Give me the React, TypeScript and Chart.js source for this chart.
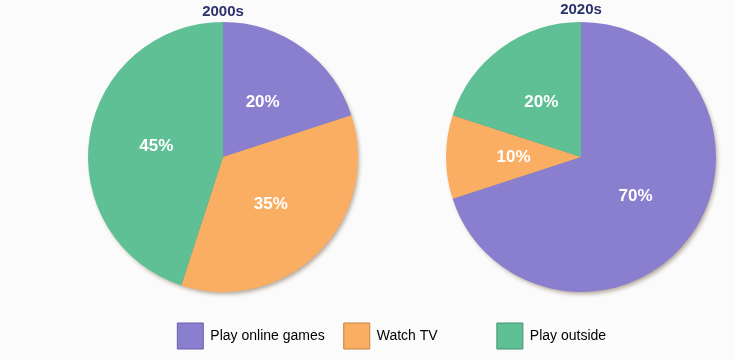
import React, { useEffect, useRef } from "react";
import { Chart, registerables } from "chart.js";

Chart.register(...registerables);

const categories = ["Play online games", "Watch TV", "Play outside"];
const periods = ["2000s", "2020s"];
const values2000s = [20, 35, 45];
const values2020s = [70, 10, 20];
const colors = ["#8a7fce", "#f9ae63", "#5fbf95"];
const edgeColors = ["#6a5fa8", "#c9803c", "#3f9470"];

const FONT = "'Liberation Sans', Arial, Helvetica, sans-serif";

const shadowPlugin = {
  id: "pieShadow",
  beforeDatasetsDraw(chart: any) {
    const arc: any = chart.getDatasetMeta(0).data[0];
    if (!arc) return;
    const ctx = chart.ctx;
    ctx.save();
    ctx.shadowColor = "rgba(90,60,30,0.45)";
    ctx.shadowBlur = 4;
    ctx.shadowOffsetX = 2;
    ctx.shadowOffsetY = 3;
    ctx.fillStyle = "#9a8a7a";
    ctx.beginPath();
    ctx.arc(arc.x, arc.y, arc.outerRadius - 1, 0, Math.PI * 2);
    ctx.fill();
    ctx.restore();
  },
};

const pctLabels = {
  id: "pctLabels",
  afterDatasetsDraw(chart: any) {
    const ctx = chart.ctx;
    const meta = chart.getDatasetMeta(0);
    const data = chart.data.datasets[0].data as number[];
    ctx.save();
    ctx.font = `bold 17px ${FONT}`;
    ctx.fillStyle = "#ffffff";
    ctx.textAlign = "center";
    ctx.textBaseline = "middle";
    meta.data.forEach((arc: any, i: number) => {
      const p = arc.tooltipPosition(false);
      ctx.fillText(`${data[i]}%`, p.x, p.y);
    });
    ctx.restore();
  },
};

function makePie(
  canvas: HTMLCanvasElement,
  title: string,
  values: number[],
  padLeft: number,
  padRight: number,
  titleTop: number
) {
  return new Chart(canvas, {
    type: "pie",
    data: {
      labels: categories,
      datasets: [
        {
          data: values,
          backgroundColor: colors,
          borderWidth: 0,
        },
      ],
    },
    options: {
      animation: false,
      responsive: false,
      maintainAspectRatio: false,
      layout: { padding: { left: padLeft, right: padRight, top: 0, bottom: 18 } },
      plugins: {
        legend: { display: false },
        tooltip: { enabled: false },
        title: {
          display: true,
          text: title,
          color: "#2b316b",
          font: { size: 15, weight: "bold", family: FONT },
          padding: { top: titleTop, bottom: 4 - titleTop },
        },
      },
    },
    plugins: [shadowPlugin, pctLabels],
  } as any);
}

function makeLegend(canvas: HTMLCanvasElement, shown: number[], padLeft: number, padRight: number) {
  return new Chart(canvas, {
    type: "pie",
    data: {
      labels: categories,
      datasets: [{ data: categories.map(() => 0), backgroundColor: colors, borderWidth: 0 }],
    },
    options: {
      animation: false,
      responsive: false,
      maintainAspectRatio: false,
      layout: { padding: { top: 304, left: padLeft, right: padRight, bottom: 0 } },
      plugins: {
        tooltip: { enabled: false },
        title: { display: false },
        legend: {
          display: true,
          position: "top",
          labels: {
            boxWidth: 26,
            boxHeight: 26,
            padding: 19,
            color: "#222222",
            font: { size: 14, family: FONT },
            filter: (item: any) => shown.includes(item.index),
            generateLabels: () =>
              categories.map((text, i) => ({
                text,
                fillStyle: colors[i],
                strokeStyle: edgeColors[i],
                lineWidth: 1,
                hidden: false,
                index: i,
              })),
          },
        },
      },
    },
  } as any);
}

export default function App() {
  const leftRef = useRef<HTMLCanvasElement>(null);
  const rightRef = useRef<HTMLCanvasElement>(null);
  const legendARef = useRef<HTMLCanvasElement>(null);
  const legendBRef = useRef<HTMLCanvasElement>(null);

  useEffect(() => {
    const c1 = makePie(leftRef.current!, periods[0], values2000s, 88, 9, 3);
    const c2 = makePie(rightRef.current!, periods[1], values2020s, 79, 18, 1);
    const c3 = makeLegend(legendARef.current!, [0, 1], 0, 119);
    const c4 = makeLegend(legendBRef.current!, [2], 369, 0);
    return () => {
      c1.destroy();
      c2.destroy();
      c3.destroy();
      c4.destroy();
    };
  }, []);

  const overlay = { position: "absolute" as const, left: 0, top: 0, width: 734, height: 480, pointerEvents: "none" as const };

  return (
    <div
      style={{
        position: "fixed",
        left: 0,
        top: 0,
        width: 734,
        height: 360,
        background: "#fbfbfb",
        overflow: "hidden",
      }}
    >
      <canvas
        ref={leftRef}
        width={367}
        height={310}
        style={{ position: "absolute", left: 0, top: 0, width: 367, height: 310 }}
      />
      <canvas
        ref={rightRef}
        width={367}
        height={310}
        style={{ position: "absolute", left: 367, top: 0, width: 367, height: 310 }}
      />
      <canvas ref={legendARef} width={734} height={480} style={overlay} />
      <canvas ref={legendBRef} width={734} height={480} style={overlay} />
    </div>
  );
}
